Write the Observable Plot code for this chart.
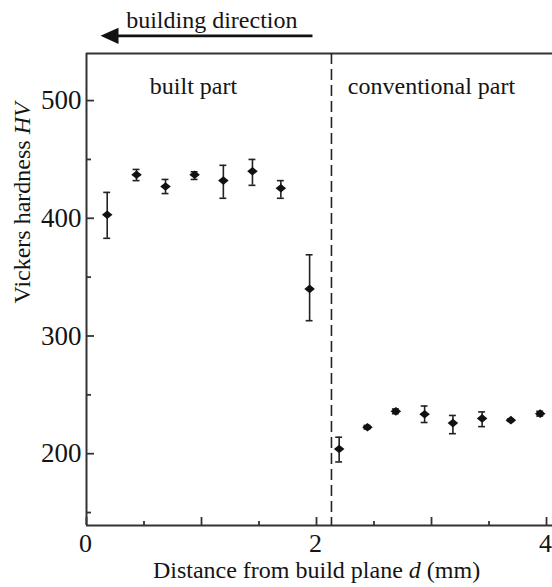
<!DOCTYPE html>
<html><head><meta charset="utf-8">
<script src="https://cdn.jsdelivr.net/npm/d3@7"></script>
<script src="https://cdn.jsdelivr.net/npm/@observablehq/plot@0.6"></script>
<style>body{margin:0;background:#fff}</style>
</head><body><div id="chart"></div>
<script>
// Data
const distance = [0.18, 0.435, 0.687, 0.94, 1.19, 1.443, 1.69, 1.94, 2.197, 2.443, 2.69, 2.94, 3.186, 3.44, 3.69, 3.945];
const hardness = [403, 437, 427, 437, 432, 440, 425.5, 340, 204, 222.5, 236, 233.5, 226, 230, 228.5, 234];
const errLow  = [383, 432, 421, 433, 417, 428, 417, 313, 193, 221, 234, 226.5, 217, 223, 227.5, 232];
const errHigh = [422, 441.5, 433, 439.5, 445, 450, 432, 369, 214, 224, 238, 240.5, 232.5, 235.5, 229.5, 236];
const boundary = [2.13];

const xTickLabels = [0, 2, 4];
const xTicksMajor = [0, 1, 2, 3, 4];
const xTicksMinor = [0.5, 1.5, 2.5, 3.5];
const yTickLabels = [200, 300, 400, 500];
const yTicksMinor = [150, 250, 350, 450];

const xLabel = "Distance from build plane d (mm)";
const yLabel = "Vickers hardness HV";
const regionText = ["built part", "conventional part"];
const regionX = [0.93, 3.0];
const regionY = [505.5, 505.5];
const directionText = ["building direction"];
const directionTextX = [1.09];
const directionTextY = [561.5];
const arrowFrom = [1.965];
const arrowTo = [0.2];
const arrowY = [555];

const points = distance.map((d, i) => ({d, hv: hardness[i], lo: errLow[i], hi: errHigh[i]}));
const regions = regionText.map((t, i) => ({t, x: regionX[i], y: regionY[i]}));
const direction = directionText.map((t, i) => ({t, x: directionTextX[i], y: directionTextY[i]}));
const arrow = arrowFrom.map((x1, i) => ({x1, x2: arrowTo[i], y: arrowY[i]}));

const ink = "#141414";
const diamond = {draw(ctx, size) { const r = Math.sqrt(size / Math.PI); ctx.moveTo(-1.1*r, 0); ctx.lineTo(0, -0.9*r); ctx.lineTo(1.1*r, 0); ctx.lineTo(0, 0.9*r); ctx.closePath(); }};
const leftTriangle = {draw(ctx, size) { const r = Math.sqrt(size / Math.PI); ctx.moveTo(-r, 0); ctx.lineTo(r, -0.9*r); ctx.lineTo(r, 0.9*r); ctx.closePath(); }};

const chart = Plot.plot({
  width: 552, height: 587,
  marginLeft: 86, marginRight: 0, marginTop: 53, marginBottom: 62,
  style: {fontFamily: "'Liberation Serif', 'Times New Roman', serif", fontSize: "24px", color: ink, background: "#fff"},
  x: {domain: [0, 4.052]},
  y: {domain: [139, 540]},
  marks: [
    // frame
    Plot.ruleX([0], {stroke: "#333", strokeWidth: 2}),
    Plot.ruleY([139, 540], {stroke: "#333", strokeWidth: 2}),
    // ticks (inward)
    Plot.axisX(xTicksMajor, {tickSize: -8, tickFormat: () => "", label: null, stroke: "#333", strokeWidth: 1.8}),
    Plot.axisX(xTicksMinor, {tickSize: -4, tickFormat: () => "", label: null, stroke: "#333", strokeWidth: 1.8}),
    Plot.axisX(xTickLabels, {tickSize: 0, tickPadding: 8, fontSize: 26, tickFormat: d => String(d), label: null, dx: -1}),
    Plot.axisY(yTickLabels, {tickSize: -8, tickFormat: () => "", label: null, stroke: "#333", strokeWidth: 1.8}),
    Plot.axisY(yTicksMinor, {tickSize: -5, tickFormat: () => "", label: null, stroke: "#333", strokeWidth: 1.8}),
    Plot.axisY(yTickLabels, {tickSize: 0, tickPadding: 5, fontSize: 27, tickFormat: d => String(d), label: null}),
    // boundary
    Plot.ruleX(boundary, {stroke: "#222", strokeWidth: 1.6, strokeDasharray: "11,5"}),
    // error bars
    Plot.ruleX(points, {x: "d", y1: "lo", y2: "hi", stroke: "#222", strokeWidth: 1.6}),
    Plot.ruleY(points, {y: "lo", x1: d => d.d - 0.03, x2: d => d.d + 0.03, stroke: "#222", strokeWidth: 1.6}),
    Plot.ruleY(points, {y: "hi", x1: d => d.d - 0.03, x2: d => d.d + 0.03, stroke: "#222", strokeWidth: 1.6}),
    Plot.dot(points, {x: "d", y: "hv", symbol: diamond, r: 4.8, fill: "#111", stroke: "none"}),
    // region labels
    Plot.text(regions, {x: "x", y: "y", text: "t", fontSize: 24, lineAnchor: "bottom", fill: ink}),
    // building direction annotation
    Plot.text(direction, {x: "x", y: "y", text: "t", fontSize: 24, lineAnchor: "bottom", fill: ink}),
    Plot.link(arrow, {x1: "x1", x2: "x2", y1: "y", y2: "y", stroke: "#111", strokeWidth: 2.6}),
    Plot.dot(arrow, {x: "x2", y: "y", symbol: leftTriangle, r: 9, fill: "#111", stroke: "none"}),
    // axis labels
    Plot.text([xLabel], {text: d => d, frameAnchor: "bottom", dx: -3, dy: 52, lineAnchor: "bottom", fontSize: 24, fill: ink}),
    Plot.text([yLabel], {text: d => d, frameAnchor: "left", rotate: -90, dx: -64, dy: 14, lineAnchor: "middle", fontSize: 24, fill: ink})
  ]
});

// italic variable names
function italicize(svg, full, before, ital, after) {
  svg.querySelectorAll("text").forEach(t => {
    if (t.textContent === full && t.children.length === 0) {
      t.textContent = "";
      const ns = "http://www.w3.org/2000/svg";
      const a = document.createElementNS(ns, "tspan"); a.textContent = before;
      const b = document.createElementNS(ns, "tspan"); b.textContent = ital; b.setAttribute("font-style", "italic");
      t.appendChild(a); t.appendChild(b);
      if (after) { const c = document.createElementNS(ns, "tspan"); c.textContent = after; t.appendChild(c); }
    }
  });
}
italicize(chart, xLabel, "Distance from build plane ", "d", " (mm)");
italicize(chart, yLabel, "Vickers hardness ", "HV", "");
document.getElementById("chart").appendChild(chart);
</script>
</body></html>
